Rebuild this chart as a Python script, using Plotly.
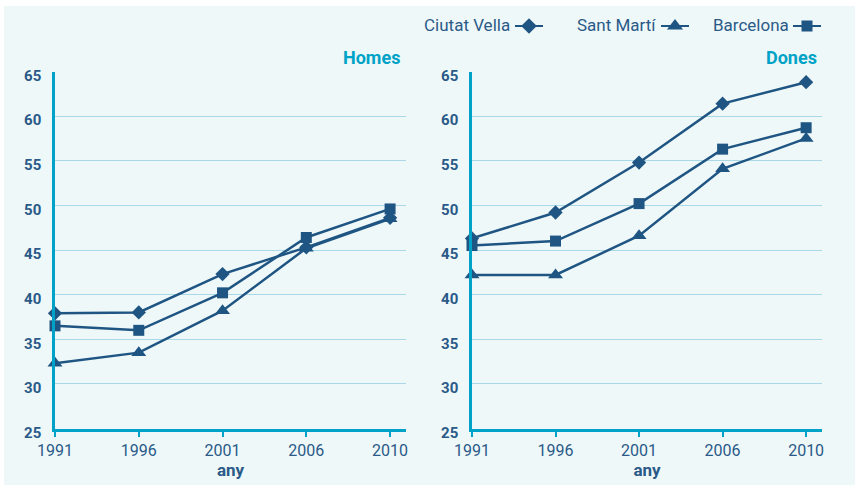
import plotly.graph_objects as go

years = ["1991", "1996", "2001", "2006", "2010"]
series_names = ["Ciutat Vella", "Sant Martí", "Barcelona"]
symbols = ["diamond", "triangle-up", "square"]

homes_ciutat_vella = [37.9, 38.0, 42.3, 45.3, 48.6]
homes_sant_marti = [32.3, 33.5, 38.2, 45.2, 48.5]
homes_barcelona = [36.5, 36.0, 40.2, 46.4, 49.6]

dones_ciutat_vella = [46.3, 49.2, 54.8, 61.4, 63.8]
dones_sant_marti = [42.2, 42.2, 46.6, 54.1, 57.5]
dones_barcelona = [45.5, 46.0, 50.2, 56.3, 58.7]

y_ticks = [25, 30, 35, 40, 45, 50, 55, 60, 65]

LINE = "#1f5583"
CYAN = "#00a3c7"
GRID = "#a9d9e9"
TXT = "#2a5a88"
BG = "#eff8f8"
COND = "Roboto, sans-serif"

fig = go.Figure()

homes = [homes_ciutat_vella, homes_sant_marti, homes_barcelona]
dones = [dones_ciutat_vella, dones_sant_marti, dones_barcelona]
msize = {"diamond": 11, "triangle-up": 13, "square": 11}

for vals, xa, ya in [(homes, "x", "y"), (dones, "x2", "y2")]:
    for name, sym, v in zip(series_names, symbols, vals):
        fig.add_trace(go.Scatter(
            x=years, y=v, mode="lines+markers", name=name,
            xaxis=xa, yaxis=ya, showlegend=False, cliponaxis=False,
            line=dict(color=LINE, width=2.5),
            marker=dict(symbol=sym, size=msize[sym], color=LINE),
        ))

# custom legend (text left of symbol) on a pixel-unit overlay axis
leg_text_right = [512, 658, 791]
leg_sym_x = [529, 675, 807]
leg_size = {"diamond": 12, "triangle-up": 14, "square": 11}
for name, sym, tx, sx in zip(series_names, symbols, leg_text_right, leg_sym_x):
    fig.add_trace(go.Scatter(
        x=[sx - 14, sx + 14], y=[26, 26], mode="lines",
        xaxis="x3", yaxis="y3", showlegend=False, hoverinfo="skip",
        line=dict(color=LINE, width=2),
    ))
    fig.add_trace(go.Scatter(
        x=[sx], y=[26], mode="markers",
        xaxis="x3", yaxis="y3", showlegend=False, hoverinfo="skip",
        marker=dict(symbol=sym, size=leg_size[sym], color=LINE),
    ))
    fig.add_annotation(x=tx, y=25, xref="x3", yref="y3", text=name,
                       showarrow=False, xanchor="right", yanchor="middle",
                       font=dict(family="Roboto, sans-serif", size=17, color=TXT))

xdoms = [[55/855, 406/855], [472/855, 822/855]]
ydom = [1 - 428.5/485, 1 - 71.5/485]

common_x = dict(type="category", range=[0, 4.19], showgrid=False, zeroline=False,
                automargin=False,
                showline=True, linecolor=CYAN, linewidth=3,
                ticks="outside", ticklen=5, tickwidth=2, tickcolor=CYAN,
                tickfont=dict(family=COND, size=16, color=TXT),
                title=dict(text="<b>any</b>", font=dict(family=COND, size=17, color=TXT), standoff=2))
common_y = dict(range=[25, 65], tickvals=y_ticks, showgrid=True, gridcolor=GRID, gridwidth=1.2,
                automargin=False,
                zeroline=False, showline=True, linecolor=CYAN, linewidth=2.5,
                ticks="", ticklabelstandoff=8, ticklabelshift=4,
                tickfont=dict(family=COND, size=15, color=TXT, weight="bold"))

fig.update_layout(
    width=855, height=485, margin=dict(l=0, r=0, t=0, b=0, autoexpand=False),
    paper_bgcolor="white", plot_bgcolor="rgba(0,0,0,0)",
    showlegend=False,
    xaxis=dict(domain=xdoms[0], anchor="y", **common_x),
    yaxis=dict(domain=ydom, anchor="x", **common_y),
    xaxis2=dict(domain=xdoms[1], anchor="y2", **common_x),
    yaxis2=dict(domain=ydom, anchor="x2", **common_y),
    xaxis3=dict(domain=[0, 1], range=[0, 855], visible=False, anchor="y3", fixedrange=True, automargin=False),
    yaxis3=dict(domain=[0, 1], range=[485, 0], visible=False, anchor="x3", fixedrange=True, automargin=False),
    shapes=[dict(type="rect", xref="paper", yref="paper", x0=4/855, x1=1, y0=0, y1=1 - 6/485,
                 fillcolor=BG, line=dict(width=0), layer="below")],
)

for txt, xr in [("Homes", 402/855), ("Dones", 819/855)]:
    fig.add_annotation(x=xr, y=1 - 57/485, xref="paper", yref="paper", text=f"<b>{txt}</b>",
                       showarrow=False, xanchor="right", yanchor="middle",
                       font=dict(family=COND, size=18, color=CYAN))

fig.write_html("out.html", config={"displayModeBar": False},
               post_script="document.body.style.margin='0';document.body.style.overflow='hidden';")
